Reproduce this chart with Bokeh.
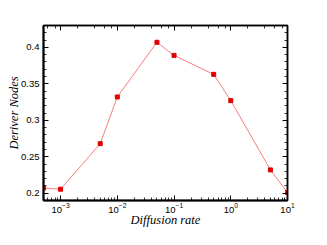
from bokeh.plotting import figure
from bokeh.models import LogAxis, LinearAxis, Range1d, SingleIntervalTicker
from bokeh.embed import file_html
from bokeh.resources import INLINE

# Data
diffusion_rate = [5e-4, 1e-3, 5e-3, 1e-2, 5e-2, 1e-1, 5e-1, 1.0, 5.0, 10.0]
deriver_nodes = [0.207, 0.2055, 0.268, 0.332, 0.407, 0.389, 0.363, 0.327, 0.232, 0.201]
y_tick_step = 0.05

p = figure(x_axis_type="log", output_backend="svg", toolbar_location=None,
           width=311, height=229,
           min_border_left=43, min_border_top=25, min_border_right=24, min_border_bottom=20,
           x_range=Range1d(5e-4, 10), y_range=Range1d(0.19, 0.43))
p.background_fill_color = "white"
p.border_fill_color = "white"
p.outline_line_color = "black"
p.outline_line_width = 1.5
p.xgrid.visible = False
p.ygrid.visible = False

p.line(diffusion_rate, deriver_nodes, line_color="#f07070", line_width=0.9)
p.scatter(diffusion_rate, deriver_nodes, marker="square", size=4,
          fill_color="#e00000", line_color="#e00000")

def style(ax, labels=True):
    ax.major_tick_in = 5
    ax.major_tick_out = 0
    ax.minor_tick_in = 3
    ax.minor_tick_out = 0
    ax.major_tick_line_color = "black"
    ax.minor_tick_line_color = "black"
    ax.major_tick_line_width = 1
    ax.minor_tick_line_width = 0.8
    ax.axis_line_color = "black"
    ax.axis_line_width = 2
    ax.major_label_text_font = "Liberation Sans"
    ax.major_label_text_font_size = "9.5px"
    ax.major_label_text_color = "black"
    ax.axis_label_text_font = "Liberation Serif"
    ax.axis_label_text_font_style = "italic"
    ax.axis_label_text_font_size = "12.5px"
    ax.axis_label_text_color = "black"
    if not labels:
        ax.major_label_text_color = None
        ax.major_label_standoff = 0

xa = p.xaxis[0]
style(xa)
xa.axis_label = "Diffusion rate"
xa.major_label_standoff = 2
xa.axis_label_standoff = -3

ya = p.yaxis[0]
style(ya)
ya.ticker = SingleIntervalTicker(interval=y_tick_step, num_minor_ticks=5)
ya.axis_label = "Deriver Nodes"
ya.major_label_standoff = 4
ya.axis_label_standoff = -3

top = LogAxis()
style(top, labels=False)
top.axis_line_width = 1.5
p.add_layout(top, "above")

right = LinearAxis(ticker=SingleIntervalTicker(interval=y_tick_step, num_minor_ticks=5))
style(right, labels=False)
right.axis_line_width = 1.5
p.add_layout(right, "right")

open("out.html", "w").write(file_html(p, INLINE))
